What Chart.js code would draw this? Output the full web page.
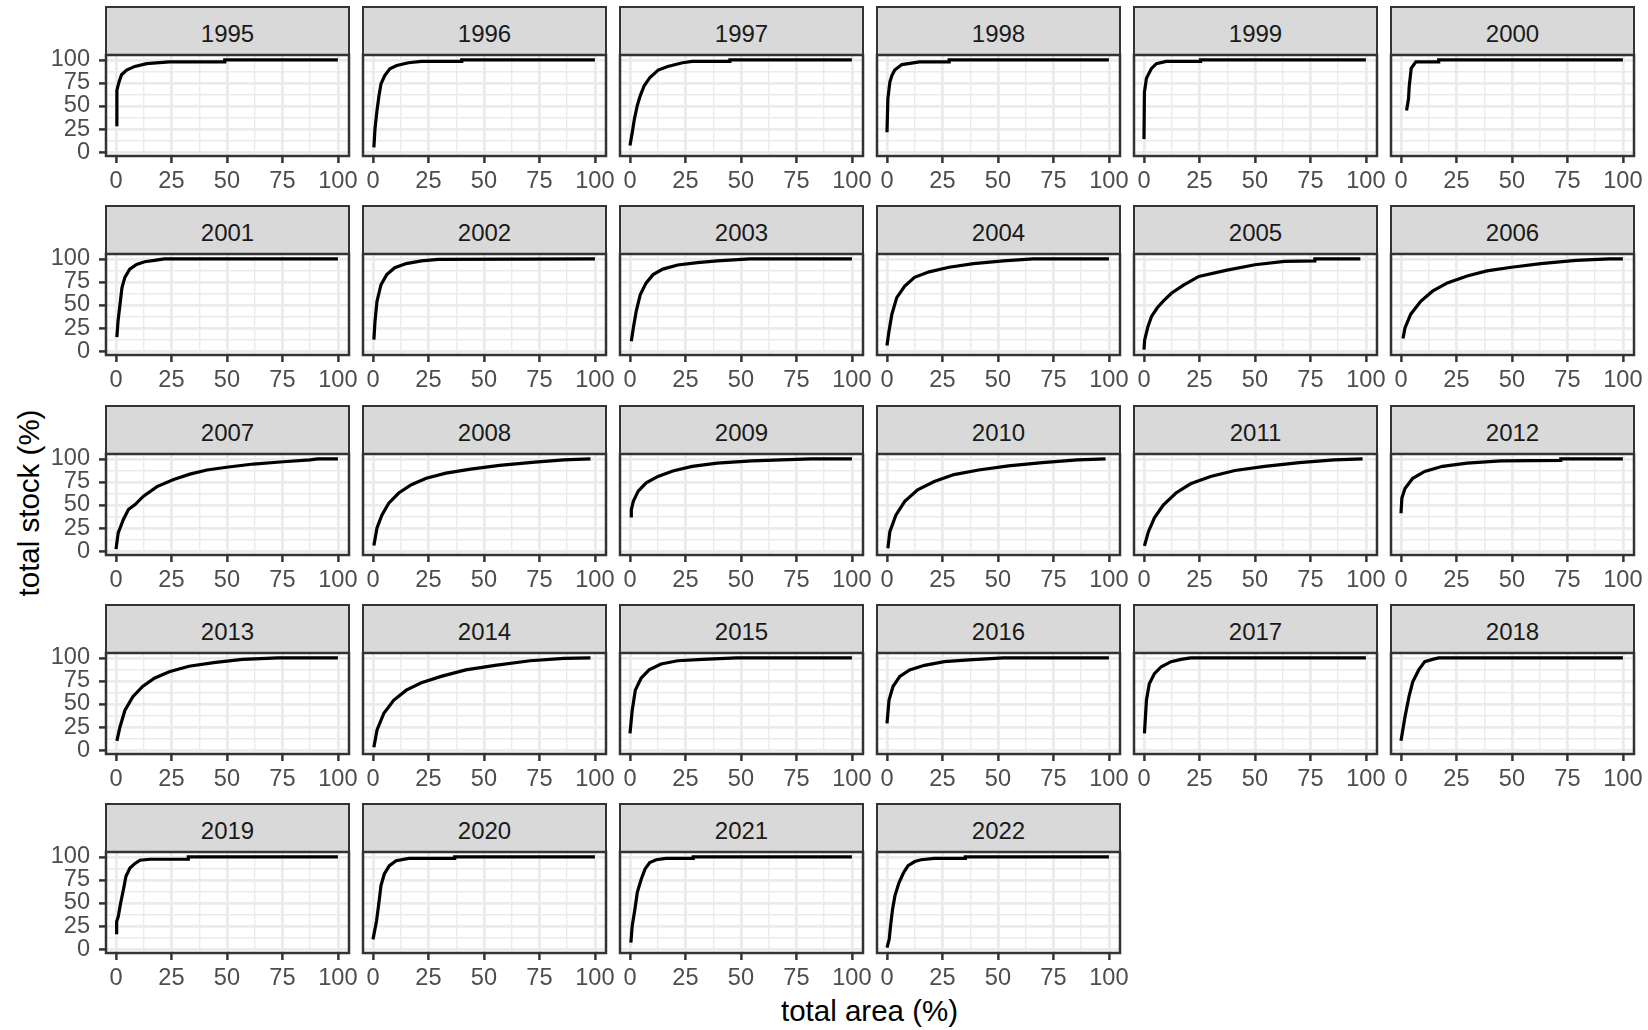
<!DOCTYPE html>
<html>
<head>
<meta charset="utf-8">
<title>total stock vs total area</title>
<script src="https://cdn.jsdelivr.net/npm/chart.js@4.4.1/dist/chart.umd.min.js"></script>
<style>
  body { margin: 0; background: #fff; font-family: "Liberation Sans", Arial, sans-serif; }
  #fig { position: relative; width: 1648px; height: 1030px; overflow: hidden; }
  .strip { position: absolute; box-sizing: border-box; background: #D9D9D9; border: 2.5px solid #333333; }
  .stripText { position: absolute; transform: translate(-50%, -50%); font-size: 24px; line-height: 1; color: #1A1A1A; white-space: nowrap; }
  .panel { position: absolute; }
  .title { position: absolute; font-size: 29.5px; line-height: 1; color: #000; white-space: nowrap; }
  #xTitle { left: 869.5px; top: 1010.5px; transform: translate(-50%, -50%); }
  #yTitle { left: 28.5px; top: 503px; transform: translate(-50%, -50%) rotate(-90deg); }
</style>
</head>
<body>
<div id="fig">
  <div class="title" id="xTitle">total area (%)</div>
  <div class="title" id="yTitle">total stock (%)</div>
</div>
<script>
// Datos
const years = [1995, 1996, 1997, 1998, 1999, 2000, 2001, 2002, 2003, 2004, 2005, 2006, 2007, 2008,
               2009, 2010, 2011, 2012, 2013, 2014, 2015, 2016, 2017, 2018, 2019, 2020, 2021, 2022];

// total area (%) por año
const areaPct = [
  [0.4, 0.4, 1, 1.5, 2.5, 4.8, 8.5, 13.8, 24, 49, 49, 100],                       // 1995
  [0.4, 0.9, 1.8, 2.7, 3.6, 5.3, 7.6, 10.7, 16, 21.8, 40, 40, 100],               // 1996
  [0, 1, 2, 3.3, 4.6, 6.4, 9, 12.7, 17, 23.7, 28, 45, 45, 100],                   // 1997
  [0, 0.4, 1.3, 2.2, 3.5, 6.7, 14.7, 28, 28, 100],                                // 1998
  [0, 0.2, 1.1, 3.3, 5.6, 10, 25.5, 25.5, 100],                                   // 1999
  [2.5, 3, 3.4, 3.7, 4.6, 6.7, 17, 17, 100],                                      // 2000
  [0.4, 0.9, 1.8, 2.7, 4, 6.2, 9.3, 12.9, 17.3, 21.8, 100],                       // 2001
  [0.4, 0.9, 1.8, 3.6, 6.2, 9.8, 15, 21.8, 29.3, 100],                            // 2002
  [0.6, 1.5, 2.8, 4.6, 7.3, 10.4, 14.8, 21.5, 30.4, 39.3, 54, 100],               // 2003
  [0, 0.9, 2.2, 4.4, 8, 12.4, 19, 28, 39, 52.4, 65.8, 100],                       // 2004
  [0, 0.3, 1.8, 3.4, 6, 9, 12.5, 17.8, 24.7, 36.9, 50, 63.3, 77, 77, 97.5],       // 2005
  [0.9, 1.8, 4.4, 8.9, 14.2, 20.9, 29.8, 38.7, 49.8, 63, 78.8, 94, 100],          // 2006
  [0, 1, 3.3, 5.6, 8.6, 12.4, 18.5, 26, 33.3, 41, 49.8, 61.9, 75.4, 87.4, 91, 100], // 2007
  [0.4, 1.8, 4, 7.1, 11.6, 17.3, 24, 32.9, 44, 57, 73, 86, 98],                   // 2008
  [0.6, 0.6, 1.5, 3.7, 7.3, 12.6, 19.3, 28, 39.3, 54.8, 81.5, 100],               // 2009
  [0.4, 1.3, 4, 8, 13.8, 21.3, 30.2, 41.3, 54.7, 70, 85.8, 98.5],                 // 2010
  [0.2, 2, 4.7, 8.7, 14.4, 21, 30, 41, 54.4, 70, 85.6, 98.5],                     // 2011
  [0, 0.4, 1.8, 5.3, 10.7, 18.7, 29.8, 45, 72, 72, 100],                          // 2012
  [0.4, 1.8, 4, 7.6, 12, 17.3, 24, 32.9, 44, 57, 73, 100],                        // 2013
  [0.4, 1.8, 4.9, 9.3, 15, 21.8, 30.7, 41.8, 55, 70.8, 86, 98],                   // 2014
  [0, 1, 2.4, 5, 8.6, 14, 21.5, 32.6, 48, 100],                                   // 2015
  [0, 0.9, 2.7, 5.8, 10.2, 16.9, 25.8, 36.9, 52.4, 100],                          // 2016
  [0.2, 1.1, 2.4, 4.7, 7.8, 12.2, 16.7, 21, 100],                                 // 2017
  [0, 1.8, 3.6, 5.3, 8, 10.7, 14.2, 17, 100],                                     // 2018
  [0.3, 0.3, 1, 2.1, 3.3, 4.5, 6.3, 8.6, 10.8, 15.3, 32.6, 32.6, 100],            // 2019
  [0, 1.6, 2.5, 3.6, 5.1, 7.4, 10.4, 16.2, 36.8, 36.8, 100],                      // 2020
  [0.4, 1, 2.2, 3.3, 5.1, 6.8, 8.9, 11.8, 16.2, 28.5, 28.5, 100],                 // 2021
  [0, 1, 1.6, 2.5, 3.6, 5.4, 7.5, 9.5, 12.5, 15.4, 21.3, 35.3, 35.3, 100]         // 2022
];

// total stock (%) por año
const stockPct = [
  [28, 67, 73, 77, 84, 89, 93, 96, 98, 98, 100, 100],                             // 1995
  [5, 25, 45, 61, 74, 83, 90.5, 94, 97, 98.5, 98.5, 100, 100],                    // 1996
  [7, 21, 36, 50.5, 61, 72, 81, 89, 93, 97, 98.5, 98.5, 100, 100],                // 1997
  [21.5, 58, 76, 83, 89, 95, 98, 98, 100, 100],                                   // 1998
  [14, 65, 80, 90.5, 96, 98.5, 98.5, 100, 100],                                   // 1999
  [45, 52, 58, 71, 91, 98, 98, 100, 100],                                         // 2000
  [15, 32, 50.5, 69, 80, 89, 94, 97, 98.5, 100, 100],                             // 2001
  [12.4, 32, 54, 72, 83, 90.5, 95, 98, 99.6, 100],                                // 2002
  [10.5, 25, 43, 61, 74, 83, 89, 93.5, 96, 98, 100, 100],                         // 2003
  [6, 21.5, 40, 58, 70.5, 80, 86, 91, 95, 98, 100, 100],                          // 2004
  [1.5, 12, 26.7, 37.5, 47, 55, 63, 71.6, 81, 87.6, 93.7, 97.4, 98, 100, 100],    // 2005
  [13.5, 25, 40, 54, 65, 74, 81.5, 87, 91, 95, 98.5, 100, 100],                   // 2006
  [2, 19.7, 34, 45, 50.5, 59.6, 70, 77.7, 83.5, 88, 91, 94.5, 97, 99, 100, 100],  // 2007
  [6, 25, 39, 52, 63, 72, 79, 84.6, 89, 93, 96.5, 99, 100],                       // 2008
  [36.4, 45, 54, 65, 74, 81, 87, 92, 95.5, 98, 100, 100],                         // 2009
  [3, 21, 39, 54, 66.5, 75.5, 83, 88, 92.5, 96, 99, 100],                         // 2010
  [5.6, 21, 36, 50, 63, 73, 81, 87.5, 92, 96, 99, 100],                           // 2011
  [41, 57.5, 68, 79, 86.5, 92, 95.5, 98, 98.5, 100, 100],                         // 2012
  [10, 25, 43, 58, 69, 78, 85, 91, 95, 98.5, 100, 100],                           // 2013
  [3, 21.5, 40, 54, 65, 73, 80, 87, 92, 97, 99.6, 100],                           // 2014
  [18, 43, 65, 78, 87, 93.5, 97, 98.5, 100, 100],                                 // 2015
  [29, 54, 69, 80, 87, 92, 96, 98, 100, 100],                                     // 2016
  [18, 54, 72, 83, 90.5, 96, 98.5, 100, 100],                                     // 2017
  [10, 36, 58, 74, 87, 96, 98.5, 100, 100],                                       // 2018
  [16, 30, 35, 50, 64, 79, 88, 93, 96.5, 97.5, 97.5, 100, 100],                   // 2019
  [10.5, 30.5, 47, 69, 81.5, 90.5, 96, 98.5, 98.5, 100, 100],                     // 2020
  [7, 25, 43, 61.5, 76, 87, 94, 97, 98.5, 98.5, 100, 100],                        // 2021
  [1.5, 10.5, 25, 43, 58, 72, 83, 90.5, 95, 97, 98.5, 98.5, 100, 100]             // 2022
];

const majorTicks = [0, 25, 50, 75, 100];
const gridTicks = [0, 12.5, 25, 37.5, 50, 62.5, 75, 87.5, 100];

// Geometria de las facetas
const nCols = 6;
const panelW = 243, stripH = 48, plotH = 101;
const axisW = 60, axisH = 40, padRight = 20, padTop = 16;
const colLeft = c => 106 + c * 257;
const rowTop = r => Math.round(7 + r * 199.25);

Chart.defaults.font.family = "'Liberation Sans', Arial, sans-serif";

const isMajor = v => majorTicks.includes(v);

// Borde del panel (theme_bw)
const panelBorder = {
  id: 'panelBorder',
  afterDraw(chart) {
    const { ctx, chartArea: a } = chart;
    ctx.save();
    ctx.strokeStyle = '#333333';
    ctx.lineWidth = 2.5;
    ctx.strokeRect(a.left, a.top, a.right - a.left, a.bottom - a.top);
    ctx.restore();
  }
};

const fig = document.getElementById('fig');

years.forEach((year, i) => {
  const r = Math.floor(i / nCols);
  const c = i % nCols;
  const left = colLeft(c);
  const top = rowTop(r);

  // Encabezado gris
  const strip = document.createElement('div');
  strip.className = 'strip';
  strip.style.left = (left - 1.25) + 'px';
  strip.style.top = (top - 1.25) + 'px';
  strip.style.width = (panelW + 2.5) + 'px';
  strip.style.height = (stripH + 2.5) + 'px';
  fig.appendChild(strip);

  const label = document.createElement('div');
  label.className = 'stripText';
  label.textContent = year;
  label.style.left = (left + panelW / 2) + 'px';
  label.style.top = (top + 27) + 'px';
  fig.appendChild(label);

  // Contenedor del grafico
  const box = document.createElement('div');
  box.className = 'panel';
  box.style.left = (left - axisW) + 'px';
  box.style.top = (top + stripH - padTop) + 'px';
  const canvas = document.createElement('canvas');
  canvas.width = axisW + panelW + padRight;
  canvas.height = padTop + plotH + axisH;
  canvas.style.width = canvas.width + 'px';
  canvas.style.height = canvas.height + 'px';
  box.appendChild(canvas);
  fig.appendChild(box);

  const pts = areaPct[i].map((x, j) => ({ x: x, y: stockPct[i][j] }));
  const showY = c === 0;

  new Chart(canvas, {
    type: 'line',
    data: {
      datasets: [
        {
          data: pts,
          borderColor: '#000000',
          borderWidth: 3.2,
          pointRadius: 0,
          fill: false,
          tension: 0
        }
      ]
    },
    options: {
      responsive: false,
      animation: false,
      events: [],
      layout: { padding: { left: 0, top: padTop, right: padRight, bottom: 0 } },
      plugins: {
        legend: { display: false },
        tooltip: { enabled: false }
      },
      scales: {
        x: {
          type: 'linear',
          min: -4.5,
          max: 105,
          afterBuildTicks: s => { s.ticks = gridTicks.map(v => ({ value: v })); },
          afterFit: s => { s.height = axisH; s.paddingLeft = 0; s.paddingRight = 0; },
          border: { display: false },
          grid: {
            color: '#EBEBEB',
            lineWidth: ctx => isMajor(ctx.tick.value) ? 2.8 : 1.4,
            tickLength: 7,
            tickWidth: 2.5,
            tickColor: ctx => isMajor(ctx.tick.value) ? '#333333' : 'rgba(0,0,0,0)'
          },
          ticks: {
            autoSkip: false,
            maxRotation: 0,
            minRotation: 0,
            padding: 4,
            color: '#4D4D4D',
            font: { size: 23.6 },
            callback: v => isMajor(v) ? String(v) : ''
          }
        },
        y: {
          type: 'linear',
          min: -4.35,
          max: 105.4,
          afterBuildTicks: s => { s.ticks = gridTicks.map(v => ({ value: v })); },
          afterFit: s => { s.width = axisW; s.paddingTop = 0; s.paddingBottom = 0; },
          border: { display: false },
          grid: {
            color: '#EBEBEB',
            lineWidth: ctx => isMajor(ctx.tick.value) ? 2.8 : 1.4,
            drawTicks: showY,
            tickLength: 7,
            tickWidth: 2.5,
            tickColor: ctx => isMajor(ctx.tick.value) ? '#333333' : 'rgba(0,0,0,0)'
          },
          ticks: {
            display: showY,
            autoSkip: false,
            padding: 9,
            color: '#4D4D4D',
            font: { size: 23.6 },
            callback: v => isMajor(v) ? String(v) : ''
          }
        }
      }
    },
    plugins: [panelBorder]
  });
});
</script>
</body>
</html>
